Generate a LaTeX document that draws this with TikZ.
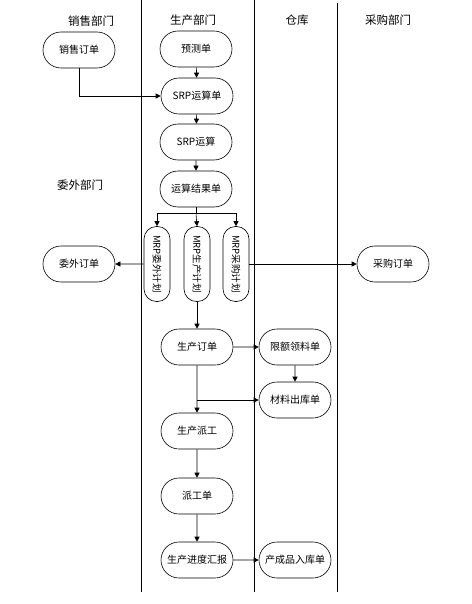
\documentclass[tikz,border=0pt]{standalone}
\usepackage{fontspec}
\setmainfont{Noto Sans CJK SC}
\usetikzlibrary{arrows.meta,shapes.misc}
\tikzset{
  doc/.style={draw,rounded rectangle,minimum width=74pt,minimum height=36pt,inner sep=1pt,font=\fontsize{10}{12}\selectfont},
  vdoc/.style={draw,rounded corners=12.5pt,minimum width=26pt,minimum height=75pt,inner sep=1pt,font=\fontsize{9.5}{11}\selectfont},
  arr/.style={-{Triangle[length=5pt,width=5pt]}},
  lane/.style={line width=0.8pt},
  dept/.style={font=\fontsize{11.5}{13}\selectfont}
}
\begin{document}
\begin{tikzpicture}[x=1pt,y=-1pt,line width=0.6pt]
    \useasboundingbox (0,0) rectangle (471,604);
    \draw[lane] (141,0) -- (141,592);
    \draw[lane] (254,0) -- (254,592);
    \draw[lane] (337,3) -- (337,592);

    \node[dept] (xsbm) at (91,21) {销售部门};
    \node[dept] (scbm) at (193,20) {生产部门};
    \node[dept] (ck) at (297,20) {仓库};
    \node[dept] (cgbm) at (388,20) {采购部门};
    \node[dept] (wwbm) at (80,185) {委外部门};

    \node[doc] (xsdd) at (79,50) {销售订单};
    \node[doc] (ycd) at (196,49) {预测单};
    \node[doc] (srpd) at (197,96) {SRP运算单};
    \node[doc] (srp) at (196,142) {SRP运算};
    \node[doc] (jgd) at (196,189) {运算结果单};

    \node[vdoc] (wwjh) at (157,264) {\rotatebox{-90}{MRP委外计划}};
    \node[vdoc] (scjh) at (197,264) {\rotatebox{-90}{MRP生产计划}};
    \node[vdoc] (cgjh) at (236,264) {\rotatebox{-90}{MRP采购计划}};
    \node[doc] (wwdd) at (79,264) {委外订单};
    \node[doc] (cgdd) at (393,264) {采购订单};

    \node[doc] (scdd) at (197,347) {生产订单};
    \node[doc] (xelld) at (295,347) {限额领料单};
    \node[doc] (clck) at (295,400) {材料出库单};
    \node[doc] (scpg) at (197,431) {生产派工};
    \node[doc] (pgd) at (197,496) {派工单};
    \node[doc] (jdhb) at (197,560) {生产进度汇报};
    \node[doc] (rkd) at (295,560) {产成品入库单};

    \draw[arr] (ycd) -- (srpd);
    \draw[arr] (xsdd.south) |- (srpd.west);
    \draw[arr] (srpd) -- (srp);
    \draw[arr] (srp) -- (jgd);
    \draw (jgd.south) -- ++(0,6) coordinate (fz);
    \draw (fz -| wwjh.north) -- (fz -| cgjh.north);
    \draw[arr] (fz -| wwjh.north) -- (wwjh.north);
    \draw[arr] (fz) -- (scjh.north);
    \draw[arr] (fz -| cgjh.north) -- (cgjh.north);
    \draw[arr] (wwjh) -- (wwdd);
    \draw[arr] (cgjh) -- (cgdd);
    \draw[arr] (scjh) -- (scdd);
    \draw[arr] (scdd) -- (xelld);
    \draw[arr] (xelld) -- (clck);
    \draw[arr] (scdd) -- (scpg);
    \draw[arr] (scdd.south |- clck.west) -- (clck.west);
    \draw[arr] (scpg) -- (pgd);
    \draw[arr] (pgd) -- (jdhb);
    \draw[arr] (jdhb) -- (rkd);
\end{tikzpicture}
\end{document}
